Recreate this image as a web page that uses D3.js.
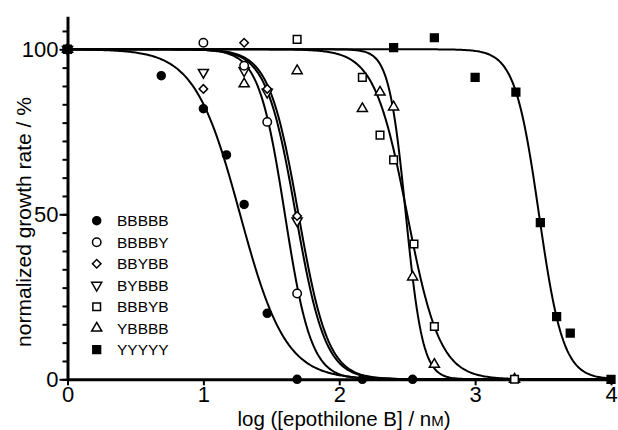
<!DOCTYPE html>
<html>
<head>
<meta charset="utf-8">
<script src="https://cdn.jsdelivr.net/npm/d3@7"></script>
<style>
  body { margin: 0; background: #fff; }
  text { font-family: "Liberation Sans", Arial, sans-serif; fill: #000; }
</style>
</head>
<body>
<svg id="chart" width="618" height="430"></svg>
<script>
// series names, in legend order
const seriesNames = ["BBBBB", "BBBBY", "BBYBB", "BYBBB", "BBBYB", "YBBBB", "YYYYY"];

// measured points, log([epothilone B]/nM) and normalized growth rate (%)
const xBBBBB = [0, 0.69, 1.0, 1.17, 1.30, 1.47, 1.69, 2.17, 2.54];
const yBBBBB = [100, 92, 82, 68, 53, 20, 0, 0, 0];
const xBBBBY = [0, 1.0, 1.30, 1.47, 1.69];
const yBBBBY = [100, 102, 95, 78, 26];
const xBBYBB = [0, 1.0, 1.30, 1.47, 1.69];
const yBBYBB = [100, 88, 102, 88, 49.5];
const xBYBBB = [0, 1.0, 1.30, 1.47, 1.69];
const yBYBBB = [100, 93, 93.5, 87, 48];
const xBBBYB = [0, 1.69, 2.17, 2.30, 2.40, 2.55, 2.70, 3.29];
const yBBBYB = [100, 103, 91.5, 74, 66.5, 41, 16, 0];
const xYBBBB = [0, 1.30, 1.69, 2.17, 2.30, 2.40, 2.54, 2.70, 3.29];
const yYBBBB = [100, 89.5, 93.5, 82, 87, 82.5, 31, 4.5, 0];
const xYYYYY = [0, 2.40, 2.70, 3.0, 3.30, 3.48, 3.60, 3.70, 4.0];
const yYYYYY = [100, 100.5, 103.5, 91.5, 87, 47.5, 19, 14, 0];

// fitted dose-response curves (top 100, bottom 0)
const logEC50 = [1.27, 1.60, 1.68, 1.70, 2.50, 2.49, 3.47];
const hillSlope = [2.6, 4.5, 4.0, 4.0, 3.6, 7.0, 4.9];

// axis ticks
const xTicks = [0, 1, 2, 3, 4];
const yTicks = [0, 50, 100];

const xData = [xBBBBB, xBBBBY, xBBYBB, xBYBBB, xBBBYB, xYBBBB, xYYYYY];
const yData = [yBBBBB, yBBBBY, yBBYBB, yBYBBB, yBBBYB, yYBBBB, yYYYYY];

const svg = d3.select("#chart");

const x = d3.scaleLinear().domain([0, 4]).range([67.5, 611]);
const y = d3.scaleLinear().domain([0, 110]).range([379.3, 16.3]);

// marker look per series
const markers = [
  { type: d3.symbolCircle, size: 50, fill: "#000", rotate: 0 },
  { type: d3.symbolCircle, size: 56, fill: "#fff", rotate: 0 },
  { type: d3.symbolSquare, size: 36, fill: "#fff", rotate: 45 },
  { type: d3.symbolTriangle, size: 44, fill: "#fff", rotate: 180 },
  { type: d3.symbolSquare, size: 58, fill: "#fff", rotate: 0 },
  { type: d3.symbolTriangle, size: 44, fill: "#fff", rotate: 0 },
  { type: d3.symbolSquare, size: 60, fill: "#000", rotate: 0 }
];

function drawMarker(g, i, px, py) {
  const m = markers[i];
  g.append("path")
    .attr("d", d3.symbol().type(m.type).size(m.size)())
    .attr("transform", `translate(${px},${py}) rotate(${m.rotate})`)
    .attr("fill", m.fill)
    .attr("stroke", "#000")
    .attr("stroke-width", 1.5);
}

// y axis: minor ticks every 50/9 units, major at 0/50/100
const minorY = d3.range(0, 20).map(k => k * 50 / 9);
svg.append("g")
  .attr("transform", `translate(${x(0)},0)`)
  .call(d3.axisLeft(y).tickValues(minorY).tickSize(5).tickSizeOuter(0).tickFormat(""))
  .call(g => g.select(".domain").remove())
  .call(g => g.selectAll("line").attr("stroke-width", 2));

svg.append("g")
  .attr("transform", `translate(${x(0)},0)`)
  .call(d3.axisLeft(y).tickValues(yTicks).tickSize(8).tickSizeOuter(0).tickPadding(1)
    .tickFormat(d3.format("d")))
  .call(g => g.select(".domain").attr("stroke-width", 3))
  .call(g => g.selectAll("line").attr("stroke-width", 2))
  .call(g => g.selectAll("text")
    .attr("font-size", 22)
    .attr("font-family", "Liberation Sans, Arial, sans-serif"));

// x axis
svg.append("g")
  .attr("transform", `translate(0,${y(0)})`)
  .call(d3.axisBottom(x).tickValues(xTicks).tickSize(6).tickSizeOuter(0).tickPadding(1)
    .tickFormat(d3.format("d")))
  .call(g => g.select(".domain").attr("stroke-width", 3))
  .call(g => g.selectAll("line").attr("stroke-width", 2))
  .call(g => g.selectAll("text")
    .attr("font-size", 22)
    .attr("font-family", "Liberation Sans, Arial, sans-serif"));

// fitted curves
const xs = d3.range(0, 4.0001, 0.01);
const line = d3.line().x(d => x(d[0])).y(d => y(d[1]));
seriesNames.forEach((name, i) => {
  const pts = xs.map(v => [v, 100 / (1 + Math.pow(10, (v - logEC50[i]) * hillSlope[i]))]);
  svg.append("path")
    .attr("d", line(pts))
    .attr("fill", "none")
    .attr("stroke", "#000")
    .attr("stroke-width", 2);
});

// data points (draw in reverse so filled circles sit on top)
const gPts = svg.append("g");
for (let i = seriesNames.length - 1; i >= 0; i--) {
  xData[i].forEach((v, j) => drawMarker(gPts, i, x(v), y(yData[i][j])));
}

// legend
const gLeg = svg.append("g");
seriesNames.forEach((name, i) => {
  const ly = 220.7 + i * 21.5;
  drawMarker(gLeg, i, 96.7, ly);
  gLeg.append("text")
    .attr("x", 117)
    .attr("y", ly)
    .attr("dy", "0.36em")
    .attr("font-size", 15.5)
    .text(name);
});

// axis titles
svg.append("text")
  .attr("transform", "translate(31,222) rotate(-90)")
  .attr("text-anchor", "middle")
  .attr("font-size", 21)
  .text("normalized growth rate / %");

const xt = svg.append("text")
  .attr("x", 344)
  .attr("y", 425.5)
  .attr("text-anchor", "middle")
  .attr("font-size", 20.5);
xt.append("tspan").text("log ([epothilone B] / n");
xt.append("tspan").attr("font-size", 15).text("M");
xt.append("tspan").text(")");
</script>
</body>
</html>
